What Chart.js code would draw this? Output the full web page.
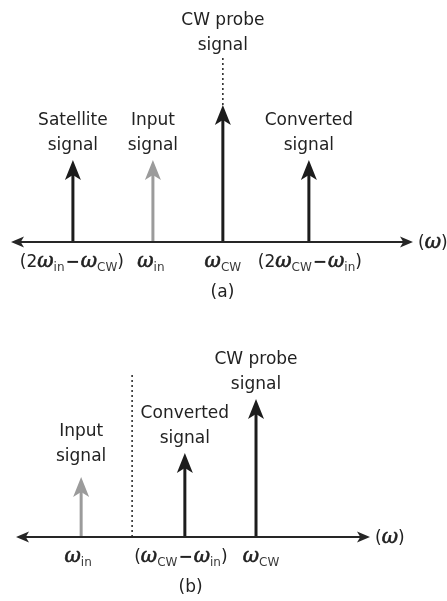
<!DOCTYPE html>
<html><head><meta charset="utf-8">
<script src="https://cdn.jsdelivr.net/npm/chart.js@4"></script>
<style>html,body{margin:0;padding:0;background:#fff;overflow:hidden}canvas{display:block}</style>
</head>
<body>
<div style="width:447px;height:300px"><canvas id="ca" width="447" height="300"></canvas></div>
<div style="width:447px;height:301px"><canvas id="cb" width="447" height="301"></canvas></div>
<script>
// ---- Panel (a) data ----
const aSignals = ['Satellite\nsignal', 'Input\nsignal', 'CW probe\nsignal', 'Converted\nsignal'];
const aFreq = [15.4, 35.3, 52.7, 74.1];
const aAmp = [0.443, 0.443, 0.741, 0.443];
const aTicks = ['(2ω_{in}−ω_{CW})', 'ω_{in}', 'ω_{CW}', '(2ω_{CW}−ω_{in})'];
const aDotX = 52.7;
const aDotRange = [0.741, 1.0];
// ---- Panel (b) data ----
const bSignals = ['Input\nsignal', 'Converted\nsignal', 'CW probe\nsignal'];
const bFreq = [18.4, 47.7, 67.8];
const bAmp = [0.366, 0.512, 0.841];
const bTicks = ['ω_{in}', '(ω_{CW}−ω_{in})', 'ω_{CW}'];
const bDotX = 32.8;
const bDotRange = [0, 1.0];
// ---- shared ----
const axisRange = [0, 100];
const axisLabel = '(ω)';

const BLACK = '#1c1c1c', GRAY = '#9b9b9b', TEXT = '#222';
const TEXT_FONT = "17px 'DejaVu Sans'";
const OMEGA_FONT = "italic 20px 'DejaVu Serif'";
const SUB_FONT = "12px 'DejaVu Sans'";
const MINUS_FONT = "bold 17px 'DejaVu Sans'";

function richParts(s) {
  const re = /(ω)|_\{([^}]*)\}|(−)|([^ω_−]+)/g; let m; const out = [];
  while ((m = re.exec(s))) {
    if (m[1]) out.push({t: 'ω', f: OMEGA_FONT, dy: 0, stroke: 0.6});
    else if (m[2] !== undefined) out.push({t: m[2], f: SUB_FONT, dy: 4, color: '#3a3a3a'});
    else if (m[3]) out.push({t: '−', f: MINUS_FONT, dy: 0, pad: 1});
    else out.push({t: m[4], f: TEXT_FONT, dy: 0});
  }
  return out;
}
function drawRich(ctx, s, x, y, align) {
  const parts = richParts(s);
  let w = 0;
  parts.forEach(p => { ctx.font = p.f; p.w = ctx.measureText(p.t).width + 2 * (p.pad || 0); w += p.w; });
  let cx = align === 'left' ? x : x - w / 2;
  ctx.textAlign = 'left'; ctx.textBaseline = 'alphabetic';
  parts.forEach(p => {
    ctx.save();
    ctx.font = p.f;
    if (p.color) ctx.fillStyle = p.color;
    ctx.fillText(p.t, cx + (p.pad || 0), y + p.dy);
    if (p.stroke) { ctx.strokeStyle = ctx.fillStyle; ctx.lineWidth = p.stroke; ctx.strokeText(p.t, cx + (p.pad || 0), y + p.dy); }
    ctx.restore();
    cx += p.w;
  });
}
function drawHead(ctx, tip, from, len, half, color) {
  const dx = tip.x - from.x, dy = tip.y - from.y, d = Math.hypot(dx, dy);
  const ux = dx / d, uy = dy / d, nx = -uy, ny = ux;
  ctx.beginPath();
  ctx.moveTo(tip.x, tip.y);
  ctx.lineTo(tip.x - ux * len + nx * half, tip.y - uy * len + ny * half);
  ctx.lineTo(tip.x - ux * len * 0.75, tip.y - uy * len * 0.75);
  ctx.lineTo(tip.x - ux * len - nx * half, tip.y - uy * len - ny * half);
  ctx.closePath();
  ctx.fillStyle = color; ctx.fill();
}
const arrowPlugin = {
  id: 'arrowHeads',
  beforeDatasetDraw(chart, args) {
    const ds = chart.data.datasets[args.index];
    if (!ds.heads) return;
    const pts = args.meta.data, p0 = pts[0], p1 = pts[pts.length - 1];
    let l = 0, t = 0, r = chart.width, b = chart.height;
    if (Math.abs(p0.x - p1.x) < 0.01) { t = p1.y + ds.headInset; }
    else {
      if (ds.heads.includes('start')) l = p0.x + ds.headInset;
      if (ds.heads.includes('end')) r = p1.x - ds.headInset;
    }
    const ctx = chart.ctx; ctx.save();
    ctx.beginPath(); ctx.rect(l, t, r - l, b - t); ctx.clip();
  },
  afterDatasetDraw(chart, args) {
    const ds = chart.data.datasets[args.index];
    if (!ds.heads) return;
    const ctx = chart.ctx; ctx.restore();
    const pts = args.meta.data, p0 = pts[0], p1 = pts[pts.length - 1];
    if (ds.heads.includes('end')) drawHead(ctx, p1, p0, ds.headLen, ds.headHalf, ds.borderColor);
    if (ds.heads.includes('start')) drawHead(ctx, p0, p1, ds.headLen, ds.headHalf, ds.borderColor);
  }
};

function buildDatasets(freq, amp, colors, dotX, dotRange) {
  const common = {showLine: true, pointRadius: 0, fill: false, clip: false, borderCapStyle: 'butt'};
  const ds = [];
  ds.push(Object.assign({data: [{x: axisRange[0], y: 0}, {x: axisRange[1], y: 0}], borderColor: '#262626', borderWidth: 2,
    heads: ['start', 'end'], headLen: 13, headHalf: 5.5, headInset: 6}, common));
  freq.forEach((f, i) => ds.push(Object.assign({data: [{x: f, y: 0}, {x: f, y: amp[i]}], borderColor: colors[i], borderWidth: 3,
    heads: ['end'], headLen: 20, headHalf: 8, headInset: 8}, common)));
  ds.push(Object.assign({data: [{x: dotX, y: dotRange[0]}, {x: dotX, y: dotRange[1]}], borderColor: '#222', borderWidth: 1.5,
    borderDash: [2, 3]}, common));
  return ds;
}

function panelPlugin(cfg) {
  return {
    id: 'panelText',
    afterDraw(chart) {
      const ctx = chart.ctx, xs = chart.scales.x, ys = chart.scales.y;
      const axisY = ys.getPixelForValue(0);
      ctx.save(); ctx.fillStyle = TEXT;
      cfg.names.forEach((name, i) => {
        const f = cfg.freq[i];
        const topVal = Math.abs(f - cfg.dotX) < 0.01 ? Math.max(cfg.amp[i], cfg.dotRange[1]) : cfg.amp[i];
        const top = ys.getPixelForValue(topVal) - cfg.gap[i];
        const lines = name.split('\n');
        const x = xs.getPixelForValue(f);
        ctx.font = TEXT_FONT; ctx.textAlign = 'center'; ctx.textBaseline = 'alphabetic';
        lines.forEach((ln, k) => ctx.fillText(ln, x, top - (lines.length - 1 - k) * 25));
      });
      cfg.ticks.forEach((t, i) => drawRich(ctx, t, xs.getPixelForValue(cfg.freq[i]) + cfg.tickShift[i], axisY + 25, 'center'));
      drawRich(ctx, axisLabel, xs.getPixelForValue(axisRange[1]) + 5, axisY + 6, 'left');
      drawRich(ctx, cfg.caption, xs.getPixelForValue(cfg.captionX), axisY + 55, 'center');
      ctx.restore();
    }
  };
}

function makeChart(id, cfg, padding) {
  const colors = cfg.names.map(n => n.startsWith('Input') ? GRAY : BLACK);
  return new Chart(document.getElementById(id), {
    type: 'scatter',
    data: {datasets: buildDatasets(cfg.freq, cfg.amp, colors, cfg.dotX, cfg.dotRange)},
    options: {
      responsive: false, animation: false, events: [],
      layout: {padding},
      plugins: {legend: {display: false}, tooltip: {enabled: false}},
      scales: {
        x: {type: 'linear', min: axisRange[0], max: axisRange[1], display: false},
        y: {type: 'linear', min: 0, max: 1, display: false}
      }
    },
    plugins: [arrowPlugin, panelPlugin(cfg)]
  });
}

makeChart('ca', {names: aSignals, freq: aFreq, amp: aAmp, ticks: aTicks, dotX: aDotX, dotRange: aDotRange,
  gap: [10, 10, 7, 10], tickShift: [-1, -2, 0, 1], caption: '(a)', captionX: 52.6},
  {left: 11, right: 34, top: 57, bottom: 58});
makeChart('cb', {names: bSignals, freq: bFreq, amp: bAmp, ticks: bTicks, dotX: bDotX, dotRange: bDotRange,
  gap: [16, 10, 10], tickShift: [-3, -4, 5], caption: '(b)', captionX: 49.3},
  {left: 16, right: 77, top: 73, bottom: 64});
</script>
</body></html>
